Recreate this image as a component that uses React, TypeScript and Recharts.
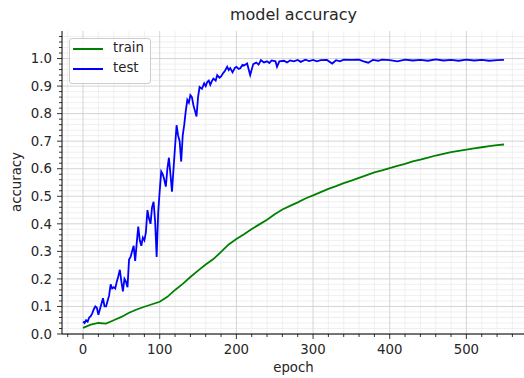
import { LineChart, Line, XAxis, YAxis, CartesianGrid, Legend, Label } from 'recharts'

const trainEpochs = [
  0, 10, 20, 30, 40, 50, 60, 70, 80, 90, 100, 110, 120, 130, 140, 150, 160, 170, 180, 190,
  200, 210, 220, 230, 240, 250, 260, 270, 280, 290, 300, 310, 320, 330, 340, 350, 360, 370,
  380, 390, 400, 410, 420, 430, 440, 450, 460, 470, 480, 490, 500, 510, 520, 530, 540, 549,
]
const trainAcc = [
  0.022, 0.034, 0.04, 0.038, 0.05, 0.062, 0.077, 0.089, 0.099, 0.108, 0.117, 0.135, 0.16,
  0.182, 0.207, 0.23, 0.252, 0.272, 0.298, 0.325, 0.345, 0.362, 0.381, 0.398, 0.415, 0.435,
  0.452, 0.465, 0.478, 0.492, 0.503, 0.515, 0.527, 0.537, 0.548, 0.557, 0.567, 0.577, 0.587,
  0.594, 0.602, 0.61, 0.618, 0.627, 0.633, 0.64, 0.648, 0.654, 0.66, 0.665, 0.669, 0.674,
  0.678, 0.682, 0.686, 0.688,
]

const testEpochs = [
  0, 2, 4, 6, 8, 10, 12, 14, 16, 18, 20, 22, 24, 26, 28, 30, 32, 34, 36, 38, 40, 42, 44, 46,
  48, 50, 52, 54, 56, 58, 60, 62, 64, 66, 68, 70, 72, 74, 76, 78, 80, 82, 84, 86, 88, 90, 92,
  94, 96, 98, 100, 102, 104, 106, 108, 110, 112, 114, 116, 118, 120, 122, 124, 126, 128, 130,
  132, 134, 136, 138, 140, 142, 144, 146, 148, 150, 152, 155, 158, 160, 162, 164, 166, 168,
  170, 173, 175, 178, 180, 183, 185, 188, 190, 192, 195, 198, 200, 203, 205, 208, 210, 214,
  218, 222, 226, 229, 232, 236, 240, 243, 246, 251, 253, 256, 262, 266, 270, 275, 280, 284,
  290, 295, 300, 305, 310, 318, 325, 330, 335, 340, 350, 360, 365, 372, 378, 385, 390, 400,
  410, 420, 430, 440, 450, 460, 470, 480, 490, 500, 510, 520, 530, 540, 549,
]
const testAcc = [
  0.045, 0.04, 0.05, 0.045, 0.06, 0.065, 0.075, 0.09, 0.1, 0.095, 0.07, 0.09, 0.11, 0.13, 0.1,
  0.1, 0.12, 0.14, 0.18, 0.165, 0.17, 0.165, 0.19, 0.21, 0.233, 0.19, 0.155, 0.2, 0.19, 0.17,
  0.27, 0.28, 0.3, 0.32, 0.265, 0.33, 0.39, 0.34, 0.32, 0.35, 0.34, 0.37, 0.45, 0.42, 0.4,
  0.46, 0.48, 0.41, 0.28, 0.44, 0.52, 0.59, 0.58, 0.56, 0.535, 0.6, 0.64, 0.58, 0.517, 0.6,
  0.68, 0.758, 0.72, 0.7, 0.626, 0.72, 0.76, 0.81, 0.85, 0.84, 0.867, 0.86, 0.83, 0.81, 0.79,
  0.86, 0.897, 0.89, 0.91, 0.9, 0.915, 0.92, 0.905, 0.918, 0.927, 0.92, 0.94, 0.93, 0.935,
  0.948, 0.955, 0.97, 0.958, 0.965, 0.95, 0.966, 0.97, 0.962, 0.965, 0.977, 0.975, 0.982,
  0.94, 0.98, 0.985, 0.978, 0.994, 0.986, 0.99, 0.984, 0.993, 0.99, 0.97, 0.99, 0.992, 0.986,
  0.993, 0.99, 0.995, 0.988, 0.996, 0.991, 0.995, 0.99, 0.994, 0.995, 0.982, 0.994, 0.99,
  0.996, 0.995, 0.996, 0.991, 0.985, 0.995, 0.992, 0.996, 0.994, 0.99, 0.996, 0.993, 0.995,
  0.992, 0.997, 0.993, 0.995, 0.992, 0.996, 0.993, 0.995, 0.992, 0.994, 0.995,
]

const xMajor = [0, 100, 200, 300, 400, 500]
const xMinor = [
  -20, 20, 40, 60, 80, 120, 140, 160, 180, 220, 240, 260, 280, 320, 340, 360, 380, 420, 440,
  460, 480, 520, 540, 560,
]
const yMajor = [0, 0.1, 0.2, 0.3, 0.4, 0.5, 0.6, 0.7, 0.8, 0.9, 1.0]
const yMinor = [
  0.02, 0.04, 0.06, 0.08, 0.12, 0.14, 0.16, 0.18, 0.22, 0.24, 0.26, 0.28, 0.32, 0.34, 0.36,
  0.38, 0.42, 0.44, 0.46, 0.48, 0.52, 0.54, 0.56, 0.58, 0.62, 0.64, 0.66, 0.68, 0.72, 0.74,
  0.76, 0.78, 0.82, 0.84, 0.86, 0.88, 0.92, 0.94, 0.96, 0.98, 1.02, 1.04, 1.06, 1.08,
]

const trainData = trainEpochs.map((e, i) => ({ epoch: e, acc: trainAcc[i] }))
const testData = testEpochs.map((e, i) => ({ epoch: e, acc: testAcc[i] }))

const FONT = '"DejaVu Sans", sans-serif'
const TXT = '#262626'

const XTick = ({ x, y, payload }: any) => {
  const major = xMajor.includes(payload.value)
  return (
    <g>
      <line x1={x} x2={x} y1={y} y2={y + (major ? 5 : 3)} stroke="#000" strokeWidth={0.8} />
      {major && (
        <text x={x} y={y + 20} textAnchor="middle" fontSize={13.3} fontFamily={FONT} fill={TXT}>
          {payload.value}
        </text>
      )}
    </g>
  )
}

const YTick = ({ x, y, payload }: any) => {
  const major = yMajor.some((v) => Math.abs(v - payload.value) < 1e-6)
  return (
    <g>
      <line x1={x - (major ? 5 : 3)} x2={x} y1={y} y2={y} stroke="#000" strokeWidth={0.8} />
      {major && (
        <text x={x - 10} y={y + 4.7} textAnchor="end" fontSize={13.3} fontFamily={FONT} fill={TXT}>
          {payload.value.toFixed(1)}
        </text>
      )}
    </g>
  )
}

const LegendBox = () => (
  <div
    style={{
      position: 'relative',
      width: 82,
      height: 46,
      boxSizing: 'border-box',
      border: '1px solid #cccccc',
      borderRadius: 3,
      background: 'rgba(255,255,255,0.85)',
      fontFamily: FONT,
      fontSize: 13.3,
      color: TXT,
    }}
  >
    {[
      { name: 'train', color: '#008000', top: 10 },
      { name: 'test', color: '#0000ff', top: 30 },
    ].map((it) => (
      <div key={it.name}>
        <div style={{ position: 'absolute', left: 3, top: it.top - 1, width: 30, height: 2, background: it.color }} />
        <div style={{ position: 'absolute', left: 43, top: it.top - 9, lineHeight: '16px' }}>{it.name}</div>
      </div>
    ))}
  </div>
)

export default function App() {
  const xTicks = [...xMajor, ...xMinor].sort((a, b) => a - b)
  const yTicks = [...yMajor, ...yMinor].sort((a, b) => a - b)
  return (
    <div style={{ position: 'fixed', left: 0, top: 0, width: 524, height: 378, overflow: 'hidden', background: '#fff' }}>
      <div
        style={{
          position: 'absolute',
          left: 0,
          width: 587,
          top: 5,
          textAlign: 'center',
          fontFamily: FONT,
          fontSize: 16,
          lineHeight: '20px',
          color: TXT,
        }}
      >
        model accuracy
      </div>
      <LineChart width={540} height={378} margin={{ top: 31, right: 15, bottom: 0, left: 0 }}>
        <CartesianGrid
          stroke="#ebebeb"
          strokeWidth={0.8}
          horizontalValues={yMinor}
          verticalValues={xMinor}
        />
        <CartesianGrid stroke="#cfcfcf" strokeWidth={0.9} horizontalValues={yMajor} verticalValues={xMajor} />
        <XAxis
          dataKey="epoch"
          type="number"
          domain={[-27.45, 576.45]}
          ticks={xTicks}
          interval={0}
          tickSize={0}
          tickMargin={0}
          tick={<XTick />}
          axisLine={{ stroke: '#000', strokeWidth: 1 }}
          height={44}
          allowDataOverflow
        >
          <Label value="epoch" position="insideBottom" offset={6} fontSize={13.3} fontFamily={FONT} fill={TXT} />
        </XAxis>
        <XAxis
          xAxisId="top"
          orientation="top"
          type="number"
          domain={[-27.45, 576.45]}
          height={0}
          tick={false}
          tickLine={false}
          axisLine={{ stroke: '#000', strokeWidth: 1 }}
        />
        <YAxis
          type="number"
          domain={[0, 1.1]}
          ticks={yTicks}
          interval={0}
          tickSize={0}
          tickMargin={0}
          tick={<YTick />}
          axisLine={{ stroke: '#000', strokeWidth: 1 }}
          width={62}
          allowDataOverflow
        >
          <Label
            content={() => (
              <text
                x={16}
                y={182}
                transform="rotate(-90 16 182)"
                textAnchor="middle"
                dominantBaseline="central"
                fontSize={13.3}
                fontFamily={FONT}
                fill={TXT}
              >
                accuracy
              </text>
            )}
          />
        </YAxis>
        <Legend
          layout="horizontal"
          verticalAlign="middle"
          align="center"
          content={() => <LegendBox />}
          wrapperStyle={{ left: 69, top: 38, width: 82, height: 46 }}
        />
        <Line
          data={trainData}
          dataKey="acc"
          name="train"
          stroke="#008000"
          strokeWidth={1.8}
          dot={false}
          isAnimationActive={false}
        />
        <Line
          data={testData}
          dataKey="acc"
          name="test"
          stroke="#0000ff"
          strokeWidth={1.8}
          dot={false}
          isAnimationActive={false}
        />
      </LineChart>
    </div>
  )
}
